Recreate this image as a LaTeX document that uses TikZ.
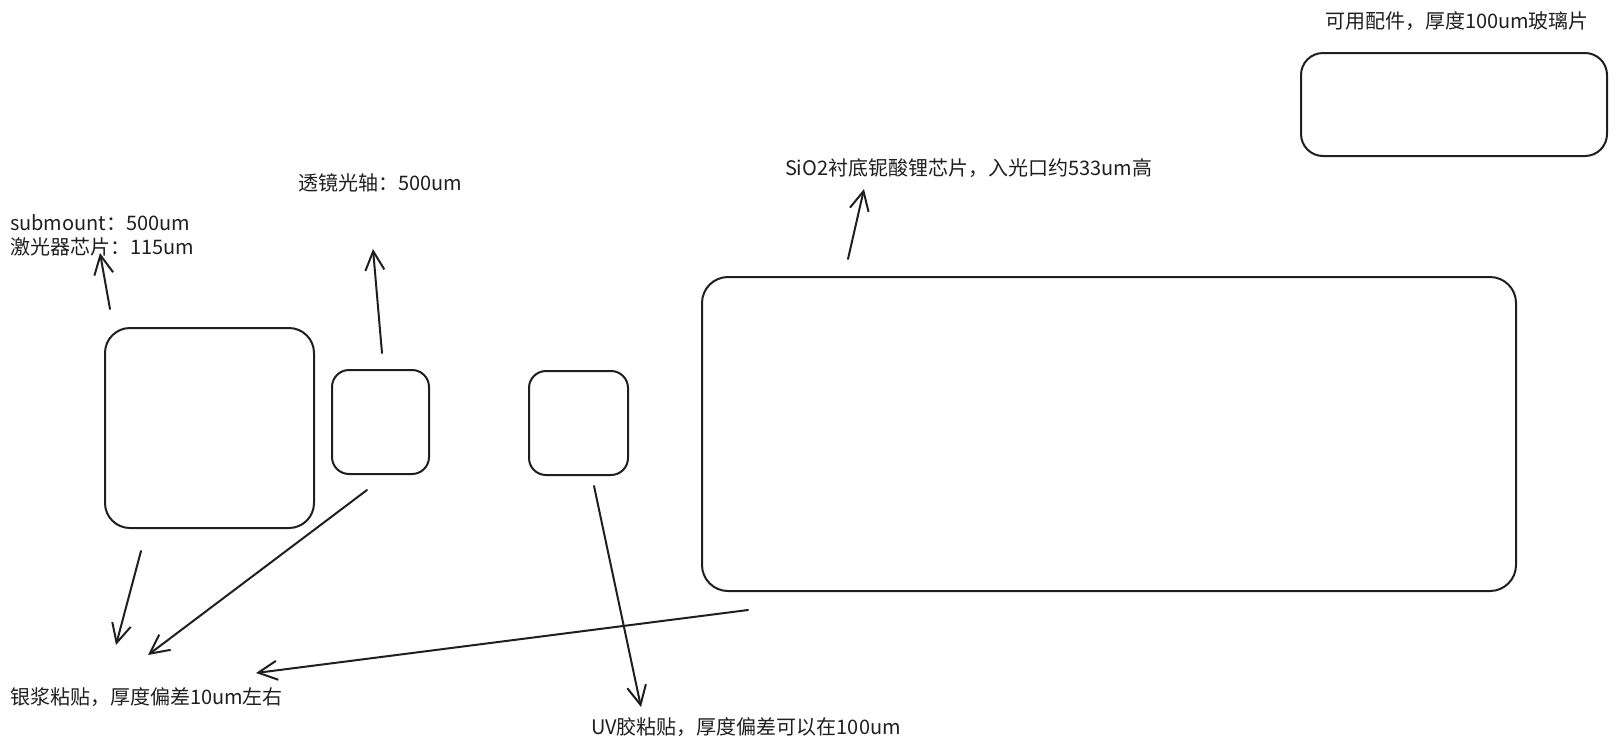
\documentclass[tikz,border=0pt]{standalone}
\usepackage{fontspec}
\setmainfont{Noto Sans CJK SC}
\usetikzlibrary{arrows.meta}
\tikzset{
  box/.style={draw=black!88, line width=2pt, inner sep=0pt, outer sep=0pt},
  lbl/.style={inner sep=0pt, outer sep=0pt, anchor=west, text=black!88, font=\fontsize{20}{24}\selectfont},
  conn/.style={draw=black!88, line width=2pt, line cap=round, -{Straight Barb[length=19pt,width=19pt,line width=2pt]}}
}
\begin{document}
\begin{tikzpicture}[x=1pt,y=-1pt]
\useasboundingbox (0,0) rectangle (1616,750);
% boxes
\node[box, rounded corners=25pt, minimum width=209pt, minimum height=200pt] (A) at (209.5,428) {};
\node[box, rounded corners=17pt, minimum width=97pt, minimum height=104pt] (B) at (380.5,422) {};
\node[box, rounded corners=17pt, minimum width=99pt, minimum height=104pt] (C) at (578.5,423) {};
\node[box, rounded corners=26pt, minimum width=814pt, minimum height=314pt] (D) at (1109,434) {};
\node[box, rounded corners=22pt, minimum width=306pt, minimum height=103pt] (E) at (1454,104.5) {};
% labels
\node[lbl, align=left] (tA) at (10,235) {submount：500um\\激光器芯片：115um};
\node[lbl] (tB) at (298,183) {透镜光轴：500um};
\node[lbl] (tD) at (785,168) {SiO2衬底铌酸锂芯片，入光口约533um高};
\node[lbl] (tE) at (1325,21) {可用配件，厚度100um玻璃片};
\node[lbl] (tS) at (10,697) {银浆粘贴，厚度偏差10um左右};
\node[lbl] (tU) at (591,727) {UV胶粘贴，厚度偏差可以在100um};
% connector end points
\coordinate (a1) at (110,309); \coordinate (a2) at (100,253);
\coordinate (b1) at (382,353); \coordinate (b2) at (373,249);
\coordinate (d1) at (848,259); \coordinate (d2) at (864,189);
\coordinate (s1) at (141,551); \coordinate (s2) at (116,645);
\coordinate (s3) at (367,490); \coordinate (s4) at (148,655);
\coordinate (s5) at (748,610); \coordinate (s6) at (256,673);
\coordinate (u1) at (594,486); \coordinate (u2) at (641,707);
% connectors
\draw[conn] (a1) -- (a2);
\draw[conn] (b1) -- (b2);
\draw[conn] (d1) -- (d2);
\draw[conn] (s1) -- (s2);
\draw[conn] (s3) -- (s4);
\draw[conn] (s5) -- (s6);
\draw[conn] (u1) -- (u2);
\end{tikzpicture}
\end{document}
